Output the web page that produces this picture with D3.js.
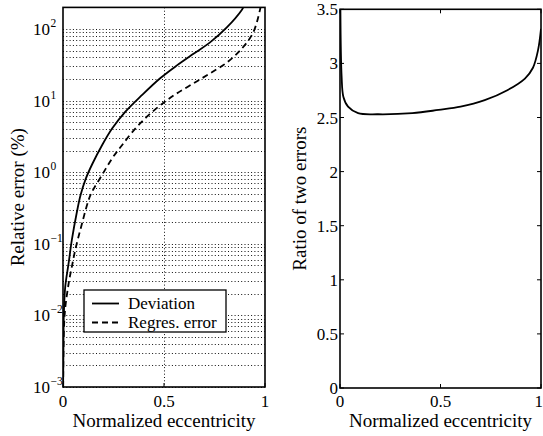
<!DOCTYPE html>
<html>
<head>
<meta charset="utf-8">
<script src="https://cdn.jsdelivr.net/npm/d3@7"></script>
</head>
<body style="margin:0; background:#fff">
<svg id="chart" width="543" height="436" style="display:block"></svg>
<script>
// normalized eccentricity vs relative error (%)
const deviation = [
  [0.0005, 0.001], [0.002, 0.003], [0.004, 0.01], [0.011, 0.025], [0.028, 0.054],
  [0.044, 0.114], [0.069, 0.28], [0.087, 0.48], [0.112, 0.8], [0.145, 1.3],
  [0.194, 2.4], [0.244, 4.1], [0.309, 7.0], [0.392, 12], [0.481, 20.5],
  [0.564, 31], [0.646, 45], [0.728, 65], [0.811, 105], [0.885, 184], [0.9, 220]
];
const regresError = [
  [0.001, 0.001], [0.008, 0.01], [0.028, 0.028], [0.044, 0.048], [0.061, 0.083],
  [0.086, 0.157], [0.127, 0.41], [0.145, 0.54], [0.194, 0.92], [0.244, 1.57],
  [0.293, 2.4], [0.359, 4.1], [0.425, 6.3], [0.499, 9.4], [0.564, 12.6],
  [0.646, 17.4], [0.728, 24], [0.811, 34], [0.885, 53], [0.942, 90],
  [0.975, 184], [0.98, 220]
];
// ratio of the two errors
const ratio = [
  [0.002, 3.5], [0.008, 2.88], [0.017, 2.69], [0.04, 2.6], [0.09, 2.54],
  [0.19, 2.53], [0.36, 2.54], [0.49, 2.57], [0.6, 2.6], [0.72, 2.66],
  [0.83, 2.75], [0.92, 2.86], [0.96, 2.96], [0.985, 3.12], [1.0, 3.32]
];

const xTicks = [0, 0.5, 1];
const logTicks = [-3, -2, -1, 0, 1, 2];
const ratioTicks = [0, 0.5, 1, 1.5, 2, 2.5, 3, 3.5];
const legendLabels = ["Deviation", "Regres. error"];

const FONT = '"Liberation Serif", "Times New Roman", serif';
const svg = d3.select("#chart");
const smooth = d3.curveCatmullRom.alpha(0.5);

// ---------- left panel ----------
const L = {x0: 63, x1: 265, y0: 7.4, y1: 387};
const xL = d3.scaleLinear().domain([0, 1]).range([L.x0, L.x1]);
const yL = d3.scaleLog().domain([1e-3, 200]).range([L.y1, L.y0]);

const left = svg.append("g");

// grid: every minor and major decade line
const gridVals = [];
for (let k = -3; k <= 2; k++) {
  for (let m = 1; m <= 9; m++) {
    const v = m * Math.pow(10, k);
    if (v <= 200) gridVals.push(v);
  }
}
left.append("g")
  .selectAll("line")
  .data(gridVals)
  .join("line")
    .attr("x1", L.x0).attr("x2", L.x1)
    .attr("y1", d => Math.round(yL(d)) + 0.5).attr("y2", d => Math.round(yL(d)) + 0.5)
    .attr("stroke", "#111").attr("stroke-width", 1)
    .attr("stroke-dasharray", "1,2.3");
left.append("line")
  .attr("x1", Math.round(xL(0.5)) + 0.5).attr("x2", Math.round(xL(0.5)) + 0.5)
  .attr("y1", L.y0).attr("y2", L.y1)
  .attr("stroke", "#111").attr("stroke-dasharray", "1,2.3");

// curves
const lineL = d3.line()
  .x(d => xL(d[0])).y(d => yL(d[1]))
  .curve(smooth);

svg.append("clipPath").attr("id", "clipL")
  .append("rect").attr("x", L.x0).attr("y", L.y0)
  .attr("width", L.x1 - L.x0).attr("height", L.y1 - L.y0);

left.append("path").datum(deviation)
  .attr("d", lineL).attr("fill", "none")
  .attr("stroke", "#000").attr("stroke-width", 1.8)
  .attr("clip-path", "url(#clipL)");
left.append("path").datum(regresError)
  .attr("d", lineL).attr("fill", "none")
  .attr("stroke", "#000").attr("stroke-width", 1.8)
  .attr("stroke-dasharray", "6,4")
  .attr("clip-path", "url(#clipL)");

// frame and inner ticks
left.append("rect")
  .attr("x", L.x0).attr("y", L.y0)
  .attr("width", L.x1 - L.x0).attr("height", L.y1 - L.y0)
  .attr("fill", "none").attr("stroke", "#000").attr("stroke-width", 1.6);

left.append("g").selectAll("line")
  .data(xTicks)
  .join("line")
    .attr("x1", d => xL(d)).attr("x2", d => xL(d))
    .attr("y1", L.y1).attr("y2", L.y1 - 4)
    .attr("stroke", "#000");

// x tick labels
left.append("g").selectAll("text")
  .data(xTicks)
  .join("text")
    .attr("x", d => xL(d)).attr("y", 407)
    .attr("text-anchor", "middle")
    .attr("font-size", 17)
    .text(d => String(d));

// y tick labels 10^k
left.append("g").selectAll("text")
  .data(logTicks)
  .join("text")
    .attr("x", 50).attr("y", d => yL(Math.pow(10, d)) + 6)
    .attr("text-anchor", "end")
    .attr("font-size", 17)
    .text("10");
left.append("g").selectAll("text")
  .data(logTicks)
  .join("text")
    .attr("x", 50.5).attr("y", d => yL(Math.pow(10, d)) - 2)
    .attr("font-size", 11.5)
    .text(d => d < 0 ? "\u2212" + (-d) : d);

// axis titles
left.append("text")
  .attr("x", xL(0.5)).attr("y", 427)
  .attr("text-anchor", "middle").attr("font-size", 19)
  .text("Normalized eccentricity");
left.append("text")
  .attr("transform", `translate(24,${(L.y0 + L.y1) / 2}) rotate(-90)`)
  .attr("text-anchor", "middle").attr("font-size", 19)
  .text("Relative error (%)");

// legend
const leg = left.append("g").attr("transform", "translate(84,290)");
leg.append("rect")
  .attr("width", 142).attr("height", 42)
  .attr("fill", "#fff").attr("stroke", "#000").attr("stroke-width", 1.3);
leg.selectAll("line")
  .data(legendLabels)
  .join("line")
    .attr("x1", 8).attr("x2", 35)
    .attr("y1", (d, i) => 13.5 + i * 19).attr("y2", (d, i) => 13.5 + i * 19)
    .attr("stroke", "#000").attr("stroke-width", 1.8)
    .attr("stroke-dasharray", (d, i) => i ? "6,4" : null);
leg.selectAll("text")
  .data(legendLabels)
  .join("text")
    .attr("x", 44).attr("y", (d, i) => 19 + i * 18.5)
    .attr("font-size", 17)
    .text(d => d);

// ---------- right panel ----------
const R = {x0: 340, x1: 541, y0: 9.3, y1: 388};
const xR = d3.scaleLinear().domain([0, 1]).range([R.x0, R.x1]);
const yR = d3.scaleLinear().domain([0, 3.5]).range([R.y1, R.y0]);

const right = svg.append("g");

svg.append("clipPath").attr("id", "clipR")
  .append("rect").attr("x", R.x0).attr("y", R.y0)
  .attr("width", R.x1 - R.x0).attr("height", R.y1 - R.y0);

right.append("path").datum(ratio)
  .attr("d", d3.line().x(d => xR(d[0])).y(d => yR(d[1])).curve(smooth))
  .attr("fill", "none").attr("stroke", "#000").attr("stroke-width", 1.8)
  .attr("clip-path", "url(#clipR)");

right.append("rect")
  .attr("x", R.x0).attr("y", R.y0)
  .attr("width", R.x1 - R.x0).attr("height", R.y1 - R.y0)
  .attr("fill", "none").attr("stroke", "#000").attr("stroke-width", 1.6);

// inner ticks on all sides
right.append("g").selectAll("line")
  .data(xTicks)
  .join("line")
    .attr("x1", d => xR(d)).attr("x2", d => xR(d))
    .attr("y1", R.y1).attr("y2", R.y1 - 4)
    .attr("stroke", "#000");
right.append("g").selectAll("line")
  .data(xTicks)
  .join("line")
    .attr("x1", d => xR(d)).attr("x2", d => xR(d))
    .attr("y1", R.y0).attr("y2", R.y0 + 4)
    .attr("stroke", "#000");
right.append("g").selectAll("line")
  .data(ratioTicks)
  .join("line")
    .attr("x1", R.x0).attr("x2", R.x0 + 4)
    .attr("y1", d => yR(d)).attr("y2", d => yR(d))
    .attr("stroke", "#000");
right.append("g").selectAll("line")
  .data(ratioTicks)
  .join("line")
    .attr("x1", R.x1).attr("x2", R.x1 - 4)
    .attr("y1", d => yR(d)).attr("y2", d => yR(d))
    .attr("stroke", "#000");

// the last label sits at the window edge, so anchor it by its right side
right.append("g").selectAll("text")
  .data(xTicks)
  .join("text")
    .attr("x", d => d === 1 ? 543 : xR(d)).attr("y", 407)
    .attr("text-anchor", d => d === 1 ? "end" : "middle")
    .attr("font-size", 17)
    .text(d => String(d));
right.append("g").selectAll("text")
  .data(ratioTicks)
  .join("text")
    .attr("x", R.x0 - 2).attr("y", d => yR(d) + 6)
    .attr("text-anchor", "end")
    .attr("font-size", 17)
    .text(d => String(d));

right.append("text")
  .attr("x", xR(0.5)).attr("y", 427)
  .attr("text-anchor", "middle").attr("font-size", 19)
  .text("Normalized eccentricity");
right.append("text")
  .attr("transform", `translate(306,${(R.y0 + R.y1) / 2}) rotate(-90)`)
  .attr("text-anchor", "middle").attr("font-size", 19)
  .text("Ratio of two errors");

// serif face everywhere (inline style, so it wins over any default)
svg.selectAll("text").style("font-family", FONT).attr("fill", "#000");
</script>
</body>
</html>
